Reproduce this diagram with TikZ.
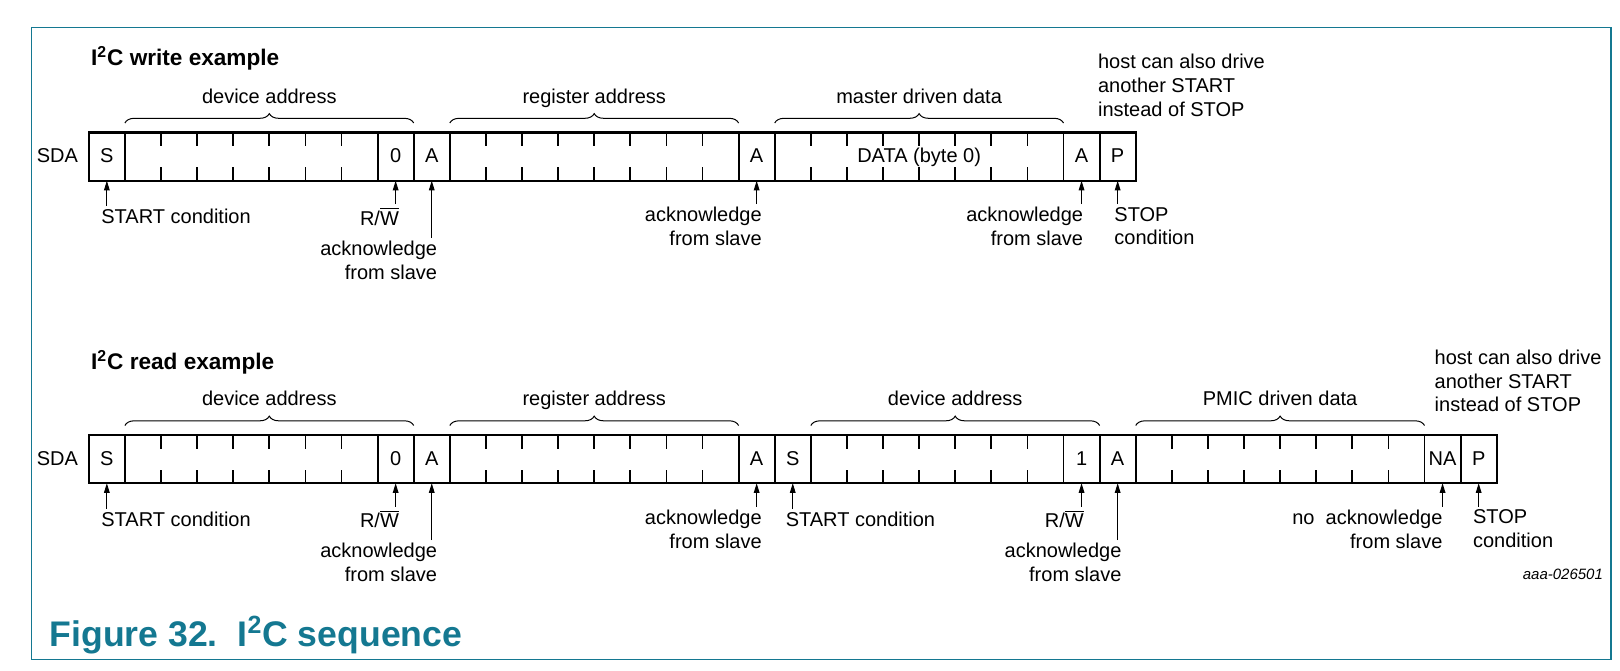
\documentclass[tikz,border=0pt]{standalone}
\usepackage{fontspec}
\setmainfont{Liberation Sans}
\usetikzlibrary{arrows.meta,positioning,decorations.pathreplacing}

\definecolor{nxpteal}{RGB}{20,120,145}
\newcommand{\cellw}{18.05pt}

\begin{document}
\begin{tikzpicture}[
    x=0.5pt, y=-0.5pt,
    font=\fontsize{10}{11.8}\selectfont,
    cell/.style={draw, line width=0.95pt, minimum width=\cellw, minimum height=24.2pt,
      inner sep=0pt, outer sep=0pt, text height=6.3pt, text depth=0pt},
    border/.style={draw, line width=1.2pt},
    tick/.style={line width=0.9pt},
    brc/.style={decorate, decoration={brace, amplitude=4.7pt}, line width=0.5pt},
    brclbl/.style={anchor=base, yshift=9.85pt, inner sep=0pt},
    lbl/.style={inner xsep=0pt, inner ysep=1.5pt, align=left},
    arr/.style={-{Triangle[length=4.8pt, width=2.8pt]}, line width=0.5pt},
    ttl/.style={inner sep=0pt, anchor=base west, font=\fontsize{11.3}{13}\selectfont\bfseries}
]
\useasboundingbox (0,0) rectangle (1620,670);
\draw[nxpteal, line width=0.6pt] (31.7,27.5) rectangle (1611,659.5);

% write sequence
\node[ttl] (wTitle) at (90.7,65) {I\textsuperscript{2}C write example};
\node[cell] (wS) at (106.85,156.5) {S};
\foreach \nm/\prev/\nb/\txt in {wDev/wS/7/{}, wRW/wDev/1/0, wA1/wRW/1/A, wReg/wA1/8/{},
    wA2/wReg/1/A, wData/wA2/8/DATA (byte 0), wA3/wData/1/A, wP/wA3/1/P}
  \node[cell, right=0pt of \prev, minimum width=\nb*\cellw] (\nm) {\txt};
\draw[border] (wS.north west) rectangle (wP.south east);
\node[lbl, left=5.25pt of wS, text height=6.3pt, text depth=0pt] (wSDA) {SDA};

\draw[brc] ([yshift=4.65pt]wDev.north west) -- node[brclbl] (wlDev) {device address} ([yshift=4.65pt]wRW.north east);
\draw[brc] ([yshift=4.65pt]wReg.north west) -- node[brclbl] (wlReg) {register address} ([yshift=4.65pt]wReg.north east);
\draw[brc] ([yshift=4.65pt]wData.north west) -- node[brclbl] (wlData) {master driven data} ([yshift=4.65pt]wData.north east);

\node[lbl, anchor=north west] (wlStart) at (101,206) {START condition};
\node[lbl, anchor=north east] (wlRW) at (399.3,204) {R/$\overline{\mbox{W}}$};
\node[lbl, anchor=north east, align=right] (wlAck1) at (437.5,237.5) {acknowledge\\from slave};
\node[lbl, anchor=north east, align=right] (wlAck2) at (762.1,204) {acknowledge\\from slave};
\node[lbl, anchor=north east, align=right] (wlAck3) at (1083.5,204) {acknowledge\\from slave};
\node[lbl, anchor=north west] (wlStop) at (1114,204) {STOP\\condition};
\node[lbl, anchor=north west] (wlHost) at (1097.7,51) {host can also drive\\another START\\instead of STOP};

\draw[arr] (wS.south |- wlStart.north) -- (wS.south);
\draw[arr] (wRW.south |- wlRW.north) -- (wRW.south);
\draw[arr] (wA1.south |- wlAck1.north) -- (wA1.south);
\draw[arr] (wA2.south |- wlAck2.north) -- (wA2.south);
\draw[arr] (wA3.south |- wlAck3.north) -- (wA3.south);
\draw[arr] (wP.south |- wlStop.north) -- (wP.south);

% read sequence
\node[ttl] (rTitle) at (90.7,369) {I\textsuperscript{2}C read example};
\node[cell] (rS) at (106.85,459) {S};
\foreach \nm/\prev/\nb/\txt in {rDev/rS/7/{}, rRW/rDev/1/0, rA1/rRW/1/A, rReg/rA1/8/{},
    rA2/rReg/1/A, rSr/rA2/1/S, rDev2/rSr/7/{}, rRW2/rDev2/1/1, rA3/rRW2/1/A,
    rData/rA3/8/{}, rNA/rData/1/NA, rP/rNA/1/P}
  \node[cell, right=0pt of \prev, minimum width=\nb*\cellw] (\nm) {\txt};
\draw[border] (rS.north west) rectangle (rP.south east);
\node[lbl, left=5.25pt of rS, text height=6.3pt, text depth=0pt] (rSDA) {SDA};

\draw[brc] ([yshift=4.65pt]rDev.north west) -- node[brclbl] (rlDev) {device address} ([yshift=4.65pt]rRW.north east);
\draw[brc] ([yshift=4.65pt]rReg.north west) -- node[brclbl] (rlReg) {register address} ([yshift=4.65pt]rReg.north east);
\draw[brc] ([yshift=4.65pt]rDev2.north west) -- node[brclbl] (rlDev2) {device address} ([yshift=4.65pt]rRW2.north east);
\draw[brc] ([yshift=4.65pt]rData.north west) -- node[brclbl] (rlData) {PMIC driven data} ([yshift=4.65pt]rData.north east);

\node[lbl, anchor=north west] (rlStart) at (101,508.5) {START condition};
\node[lbl, anchor=north east] (rlRW) at (399.3,506.5) {R/$\overline{\mbox{W}}$};
\node[lbl, anchor=north east, align=right] (rlAck1) at (437.5,540) {acknowledge\\from slave};
\node[lbl, anchor=north east, align=right] (rlAck2) at (762.1,506.5) {acknowledge\\from slave};
\node[lbl, anchor=north west] (rlStart2) at (785.4,508.5) {START condition};
\node[lbl, anchor=north east] (rlRW2) at (1084.2,506.5) {R/$\overline{\mbox{W}}$};
\node[lbl, anchor=north east, align=right] (rlAck3) at (1121.8,540) {acknowledge\\from slave};
\node[lbl, anchor=north east, align=right] (rlNack) at (1442.8,506.5) {no\ \ acknowledge\\from slave};
\node[lbl, anchor=north west] (rlStop) at (1472.7,506.5) {STOP\\condition};
\node[lbl, anchor=north west] (rlHost) at (1434.3,346.5) {host can also drive\\another START\\instead of STOP};

\draw[arr] (rS.south |- rlStart.north) -- (rS.south);
\draw[arr] (rRW.south |- rlRW.north) -- (rRW.south);
\draw[arr] (rA1.south |- rlAck1.north) -- (rA1.south);
\draw[arr] (rA2.south |- rlAck2.north) -- (rA2.south);
\draw[arr] (rSr.south |- rlStart2.north) -- (rSr.south);
\draw[arr] (rRW2.south |- rlRW2.north) -- (rRW2.south);
\draw[arr] (rA3.south |- rlAck3.north) -- (rA3.south);
\draw[arr] (rNA.south |- rlNack.north) -- (rNA.south);
\draw[arr] (rP.south |- rlStop.north) -- (rP.south);

% bit ticks inside the byte fields
\foreach \g/\last in {wDev/6, wReg/7, wData/7, rDev/6, rReg/7, rDev2/6, rData/7}
  \foreach \k in {1,...,\last} {
    \draw[tick] ([xshift=\k*\cellw]\g.north west) -- ++(0pt,-6.85pt);
    \draw[tick] ([xshift=\k*\cellw]\g.south west) -- ++(0pt,6.85pt);
  }

\node[anchor=base east, inner sep=0pt, font=\fontsize{7.5}{9}\selectfont\itshape] (docid) at (1603.3,579.3) {aaa-026501};
\node[anchor=base west, inner sep=0pt, text=nxpteal, font=\fontsize{17.8}{21}\selectfont\bfseries] (figcap) at (49.3,646) {Figure 32.\ \ I\textsuperscript{2}C sequence};
\end{tikzpicture}
\end{document}
